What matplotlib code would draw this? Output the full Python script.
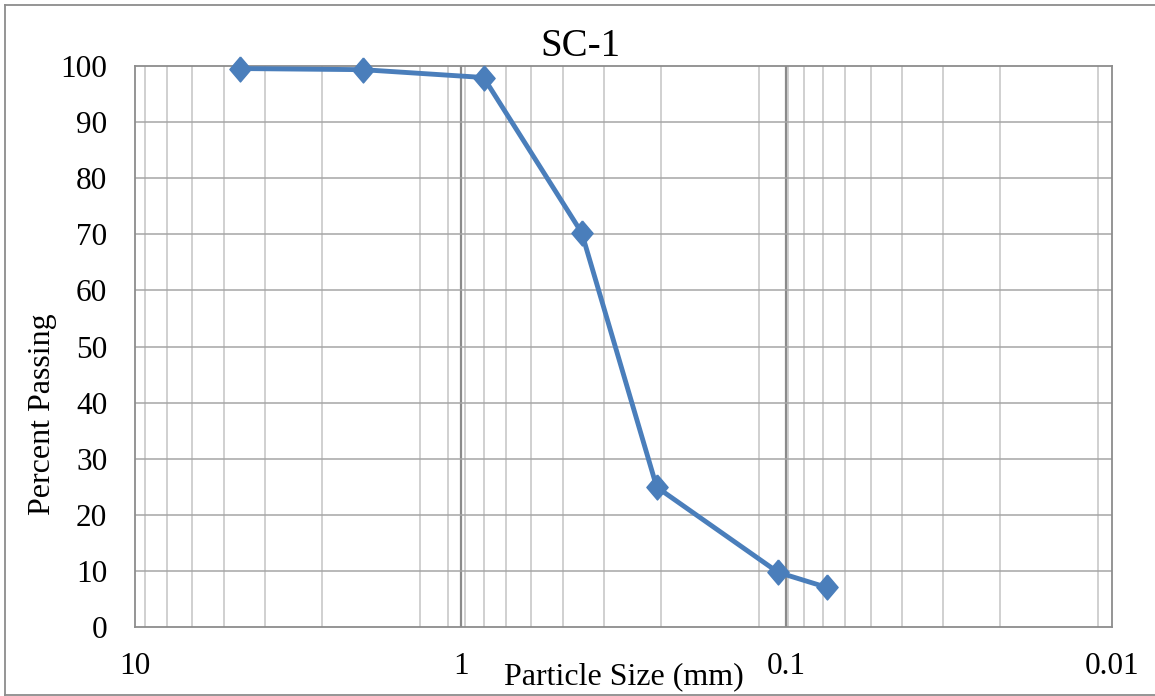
import numpy as np
import matplotlib
matplotlib.use("Agg")
import matplotlib.pyplot as plt
from matplotlib.lines import Line2D
from matplotlib.ticker import NullLocator

plt.rcParams['font.family'] = ['Liberation Serif', 'DejaVu Serif']

# -----------------------------
# Data (sieve analysis SC-1)
# -----------------------------
particle_size = [4.75, 2.0, 0.85, 0.425, 0.25, 0.106, 0.075]
percent_passing = [99.6, 99.4, 98.0, 70.3, 24.9, 9.7, 7.0]

x_ticks = [10, 1, 0.1, 0.01]
x_tick_labels = ["10", "1", "0.1", "0.01"]
y_ticks = list(range(0, 101, 10))

# minor grid spacing used by the original sheet, one step per decade
decade_tops = [10, 1, 0.1]
decade_steps = [4 / 3, 4 / 33, 4 / 363]

blue = "#4a7ebb"
W, H = 1155, 696

fig = plt.figure(figsize=(W / 100, H / 100), dpi=100)
ax = fig.add_axes([135 / W, 1 - 626.7 / H, (1112 - 135) / W, (626.7 - 66.3) / H])

ax.set_xscale("log")
ax.set_xlim(10, 0.01)
ax.set_ylim(0, 100)

# vertical grid lines
for top, step in zip(decade_tops, decade_steps):
    k = 1
    while step * k < top * 1.1 and k < 10:
        v = step * k
        if 0.01 < v < 10:
            ax.axvline(v, color="#c3c3c3", lw=1.1, zorder=1)
        k += 1
for v in [1, 0.1]:
    ax.axvline(v, color="#8a8a8a", lw=1.6, zorder=1)

# horizontal grid
for v in y_ticks[1:-1]:
    ax.axhline(v, color="#a5a5a5", lw=1.1, zorder=1)

diamond = [(0, 1), (0.85, 0), (0, -1), (-0.85, 0), (0, 1)]
ax.plot(particle_size, percent_passing, color=blue, lw=3.5,
        marker=diamond, markersize=18, markerfacecolor=blue,
        markeredgecolor=blue, zorder=3, clip_on=False)

ax.set_xticks(x_ticks)
ax.set_xticklabels(x_tick_labels)
ax.xaxis.set_minor_locator(NullLocator())
ax.set_yticks(y_ticks)
ax.tick_params(axis="both", length=0, labelsize=22.5)
ax.tick_params(axis="x", pad=18)
ax.tick_params(axis="y", pad=20)

for s in ax.spines.values():
    s.set_color("#8c8c8c")
    s.set_linewidth(1.3)

ax.set_xlabel("Particle Size (mm)", fontsize=23)
ax.xaxis.set_label_coords(0.5, -0.064)
ax.set_ylabel("Percent Passing", fontsize=23)
ax.yaxis.set_label_coords(-0.080, 0.38)

fig.text(580 / W, 1 - 47 / H, "SC-1", ha="center", va="center", fontsize=28)

# outer chart border (left, top, bottom edges)
bx0, by0, by1 = 5 / W, 1.2 / H, 1 - 5 / H
for xs, ys in [([bx0, bx0], [by0, by1]), ([bx0, 1], [by1, by1]), ([bx0, 1], [by0, by0])]:
    fig.add_artist(Line2D(xs, ys, transform=fig.transFigure,
                          color="#8c8c8c", lw=1.3))

fig.savefig("out.png", dpi=100)
